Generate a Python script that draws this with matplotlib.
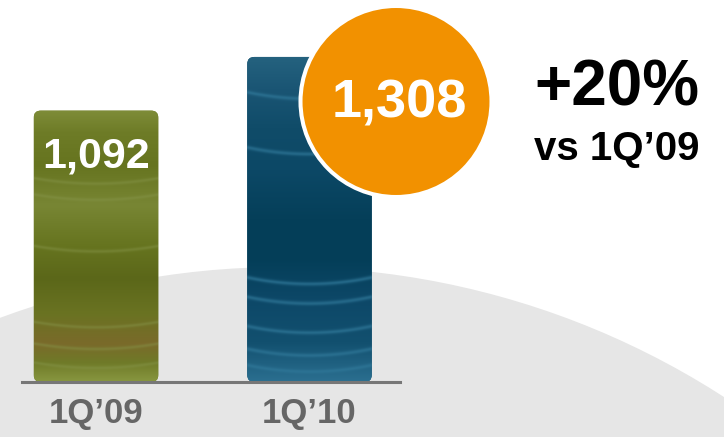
import numpy as np
import matplotlib
matplotlib.use("Agg")
import matplotlib.pyplot as plt
from matplotlib.patches import Circle, FancyBboxPatch
from matplotlib.colors import to_rgb

quarters = ["1Q’09", "1Q’10"]
revenue = [1092, 1308]

growth = round((revenue[1] / revenue[0] - 1) * 100)

plt.rcParams['font.family'] = ['Liberation Sans', 'DejaVu Sans']
plt.rcParams['font.weight'] = 'bold'

W, H = 724, 437
fig = plt.figure(figsize=(W / 100, H / 100), dpi=100)

# background grey dome
bg = fig.add_axes([0, 0, 1, 1])
bg.set_xlim(0, W)
bg.set_ylim(H, 0)
bg.axis('off')
bg.add_patch(Circle((283, 1080), 813, color='#E6E6E6', lw=0))

# bar axes, laid out in pixels
px_per_x = 213.5
px_per_y = 0.2485
base_px = 382
left_px, right_px = 22, 400
ax = fig.add_axes([left_px / W, (H - base_px) / H, (right_px - left_px) / W, base_px / H])
ax.patch.set_alpha(0)
x = np.arange(len(quarters))

bar_w = 124.5 / px_per_x
bars = ax.bar(x, revenue, width=bar_w, color=['#66731F', '#0B4763'])

# stripy textures, just styling
tex_stops = [
    # green
    [(0.0, '#7E8C38'), (0.08, '#6E7C27'), (0.2, '#66741F'), (0.35, '#788634'),
     (0.5, '#66741F'), (0.62, '#5B6719'), (0.75, '#6A7322'), (0.86, '#7A6A2A'),
     (0.93, '#6F7A28'), (1.0, '#889740')],
    # blue
    [(0.0, '#25627F'), (0.1, '#1A5574'), (0.22, '#104C69'), (0.35, '#0C4866'),
     (0.5, '#053F59'), (0.62, '#043E58'), (0.75, '#0D4868'), (0.88, '#12506F'),
     (1.0, '#2B6F90')],
]
tex_lines = [
    [0.27, 0.33, 0.52, 0.8, 0.88, 0.95],
    [0.13, 0.3, 0.7, 0.76, 0.85, 0.92, 0.97],
]
line_col = ['#86954A', '#2F7798']
line_alpha = [0.45, 0.7]

rows, cols = 300, 80
tt = np.linspace(0, 1, rows)[:, None]
xx = np.linspace(-1, 1, cols)[None, :]
rr = 7 / px_per_x
asp = (1 / px_per_y) / (1 / px_per_x)
for i, rect in enumerate(bars):
    x0, w, h = rect.get_x(), rect.get_width(), rect.get_height()
    rect.set_visible(False)
    patch = FancyBboxPatch((x0, 0), w, h, boxstyle=f"round,pad=0,rounding_size={rr}",
                           mutation_aspect=asp, fc=rect.get_facecolor(), lw=0)
    ax.add_patch(patch)
    st = tex_stops[i]
    pos = [p for p, c in st]
    img = np.zeros((rows, cols, 3))
    for ch in range(3):
        vals = [to_rgb(c)[ch] for p, c in st]
        img[:, :, ch] = np.interp(tt[:, 0], pos, vals)[:, None]
    lc = np.array(to_rgb(line_col[i]))
    for t0 in tex_lines[i]:
        d = tt - (t0 - 0.02 * xx ** 2)
        a = np.exp(-(d / 0.006) ** 2) * line_alpha[i]
        img = img * (1 - a[..., None]) + lc * a[..., None]
    im = ax.imshow(img, extent=[x0, x0 + w, 0, h], aspect='auto',
                   interpolation='bilinear', zorder=2)
    im.set_clip_path(patch)

ax.set_xlim((left_px - 96) / px_per_x, (right_px - 96) / px_per_x)
ax.set_ylim(0, base_px / px_per_y)

for s in ['top', 'right', 'left']:
    ax.spines[s].set_visible(False)
ax.spines['bottom'].set_color('#777777')
ax.spines['bottom'].set_linewidth(2.2)
ax.spines['bottom'].set_zorder(3)
ax.set_yticks([])
ax.set_xticks(x, quarters)
ax.tick_params(axis='x', length=0, pad=11, labelsize=25, labelcolor='#666666')

ax.annotate(f"{revenue[0]:,}", (x[0], revenue[0]), xytext=(0, -41),
            textcoords='offset points', ha='center', va='baseline',
            color='white', fontsize=31, fontweight='bold', zorder=4)

# overlay: orange bubble and growth text
ov = fig.add_axes([0, 0, 1, 1])
ov.set_xlim(0, W)
ov.set_ylim(H, 0)
ov.axis('off')
ov.patch.set_alpha(0)
ov.add_patch(Circle((396, 101.5), 95.5, fc='#F29100', ec='white', lw=2.9))
ov.text(399, 118, f"{revenue[1]:,}", ha='center', va='baseline',
        color='white', fontsize=39, fontweight='bold')
ov.text(617, 105, f"+{growth}%", ha='center', va='baseline',
        color='black', fontsize=46, fontweight='bold')
ov.text(617, 160, f"vs {quarters[0]}", ha='center', va='baseline',
        color='black', fontsize=29, fontweight='bold')

fig.savefig('out.png', dpi=100)
